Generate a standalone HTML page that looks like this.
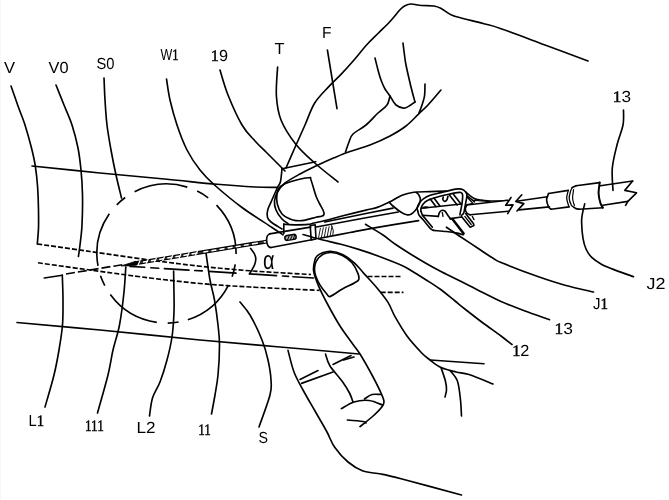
<!DOCTYPE html>
<html lang="en">
<head>
<meta charset="utf-8">
<title>Patent figure - catheter insertion</title>
<style>
html,body{margin:0;padding:0;background:#fff;}
body{width:669px;height:500px;overflow:hidden;position:relative;}
svg{display:block;position:absolute;left:0;top:0;will-change:transform;opacity:0.999;}
svg path, svg circle, svg line{fill:none;stroke:#000;stroke-width:1.65;stroke-linecap:round;stroke-linejoin:round;}
svg path.fill{fill:#000;}
svg path.w{fill:#fff;}
svg tspan.s{font-family:"Liberation Serif",serif;stroke:#000;stroke-width:0.45;}
svg text{font-family:"Liberation Sans",sans-serif;fill:#000;stroke:none;text-rendering:geometricPrecision;}
</style>
</head>
<body>
<svg width="669" height="500" viewBox="0 0 669 500">
<line x1="0.5" y1="0" x2="0.5" y2="500" stroke="#f3f3f3" stroke-width="1" stroke-dasharray="1 2" style="stroke:#f3f3f3;stroke-width:1"/>
<text x="4" y="73" font-size="16" textLength="11" lengthAdjust="spacingAndGlyphs">V</text>
<text x="48.5" y="72.5" font-size="16" textLength="20" lengthAdjust="spacingAndGlyphs">V0</text>
<text x="96.5" y="68.7" font-size="16" textLength="18" lengthAdjust="spacingAndGlyphs">S0</text>
<text x="160.5" y="60" font-size="16" textLength="18" lengthAdjust="spacingAndGlyphs">W<tspan class="s">1</tspan></text>
<text x="210.8" y="61" font-size="16" textLength="17.2" lengthAdjust="spacingAndGlyphs"><tspan class="s">1</tspan>9</text>
<text x="274.5" y="54" font-size="16" textLength="10" lengthAdjust="spacingAndGlyphs">T</text>
<text x="322" y="37.5" font-size="16" textLength="9.5" lengthAdjust="spacingAndGlyphs">F</text>
<text x="612.8" y="102" font-size="16" textLength="18.2" lengthAdjust="spacingAndGlyphs"><tspan class="s">1</tspan>3</text>
<text x="646.5" y="289" font-size="16" textLength="19" lengthAdjust="spacingAndGlyphs">J2</text>
<text x="593" y="309" font-size="16" textLength="15" lengthAdjust="spacingAndGlyphs">J<tspan class="s">1</tspan></text>
<text x="554.6" y="334" font-size="16" textLength="18.4" lengthAdjust="spacingAndGlyphs"><tspan class="s">1</tspan>3</text>
<text x="512.2" y="355.5" font-size="16" textLength="17.2" lengthAdjust="spacingAndGlyphs"><tspan class="s">1</tspan>2</text>
<text x="28.5" y="426" font-size="16" textLength="15.5" lengthAdjust="spacingAndGlyphs">L<tspan class="s">1</tspan></text>
<text x="85" y="430.5" font-size="16" textLength="18.8" lengthAdjust="spacingAndGlyphs"><tspan class="s">111</tspan></text>
<text x="136.5" y="433" font-size="16" textLength="19" lengthAdjust="spacingAndGlyphs">L2</text>
<text x="198.3" y="434.5" font-size="16" textLength="12.6" lengthAdjust="spacingAndGlyphs"><tspan class="s">11</tspan></text>
<text x="258.5" y="443" font-size="16" textLength="9.5" lengthAdjust="spacingAndGlyphs">S</text>
<text x="263" y="268.6" font-size="26" textLength="11.5" lengthAdjust="spacingAndGlyphs">α</text>
<path d="M11,86C12.2,89.3 15.7,99.5 18,106C20.3,112.5 22.8,118 25,125C27.2,132 29.8,141.2 31.5,148C33.2,154.8 34.3,159.5 35.3,166C36.3,172.5 37.1,179.7 37.6,187C38.1,194.3 38.4,203.2 38.5,210C38.6,216.8 38.7,222.3 38.5,228C38.3,233.7 37.5,241.3 37.3,244"/>
<path d="M32,166C43.3,167.2 77.5,170.8 100,173C122.5,175.2 147.5,177.4 167,179.3C186.5,181.2 202.3,183 217,184.3C231.7,185.6 245,186.5 255,187C265,187.5 273.3,187.3 277,187.4"/>
<path d="M17,322.5C30.8,323.8 69.5,327.1 100,330C130.5,332.9 170,337.2 200,340C230,342.8 253.5,344.7 280,347C306.5,349.3 345.8,352.8 359,354"/>
<path d="M56,85C57.3,88.3 61.3,98.3 64,105C66.7,111.7 69.7,117.8 72,125C74.3,132.2 76.5,140.5 78,148C79.5,155.5 80.2,162.2 81,170C81.8,177.8 82.3,185.8 82.5,195C82.7,204.2 82.4,216.7 82,225C81.6,233.3 80.6,239.8 80,245C79.4,250.2 78.7,254.6 78.4,256.5"/>
<path d="M104,78C104.2,81.7 104.5,92.2 105,100C105.5,107.8 106,116.7 107,125C108,133.3 109.5,141.7 111,150C112.5,158.3 114.2,167 116,175C117.8,183 120.6,194.2 121.5,198"/>
<path d="M228.5,285.1A69.6,69.6 0 0 1 187.8,319.8" style="stroke-linecap:butt"/>
<path d="M156.8,322.4A69.6,69.6 0 0 1 110.3,294.6" style="stroke-linecap:butt"/>
<path d="M98,265.9A69.6,69.6 0 0 1 109.3,213.8" style="stroke-linecap:butt"/>
<path d="M134.6,191.7A69.6,69.6 0 0 1 187.3,187.1" style="stroke-linecap:butt"/>
<path d="M216.5,205.1A69.6,69.6 0 0 1 236.1,254" style="stroke-linecap:butt"/>
<path d="M178.6,322A69.6,69.6 0 0 1 167.7,323.1" style="stroke-linecap:butt"/>
<path d="M104.8,285.6A69.6,69.6 0 0 1 100.5,275.7" style="stroke-linecap:butt"/>
<path d="M116.8,204.8A69.6,69.6 0 0 1 125.2,197.5" style="stroke-linecap:butt"/>
<path d="M197.2,191.1A69.6,69.6 0 0 1 208.2,197.8" style="stroke-linecap:butt"/>
<path d="M235.2,264.4A69.6,69.6 0 0 1 232.1,276.8" style="stroke-linecap:butt"/>
<path d="M166.5,79C167.1,82.5 168.2,92.3 170,100C171.8,107.7 174.2,116.7 177,125C179.8,133.3 183.2,142.5 187,150C190.8,157.5 195.4,164.2 200,170C204.6,175.8 207.5,178.8 214.5,185C221.5,191.2 232.4,200.4 242,207.5C251.6,214.6 265.2,222.9 272,227.5C278.8,232.1 281.2,233.6 283,234.8"/>
<path d="M220,70C221.3,74.2 224.3,85.8 228,95C231.7,104.2 237.5,117.3 242,125C246.5,132.7 250.8,136.3 255,141C259.2,145.7 262,148 267,153C272,158 282,168 285,171"/>
<path d="M277.6,67C277.4,71.8 275.8,87.2 276.4,96C277,104.8 277.8,112 281,120C284.2,128 290,136.8 295.6,144C301.2,151.2 307.6,156.7 314.7,163C321.8,169.3 334.1,178.8 338,182"/>
<path d="M327.4,50L337,108.7"/>
<path d="M623.5,110C623.4,112.5 624.1,119.2 623,125C621.9,130.8 618.8,137.8 617,145C615.2,152.2 613,160.4 612.3,168C611.6,175.6 612.9,186.7 613,190.4"/>
<path d="M584.7,203.8C584.2,206.8 581.4,214.5 581.6,222C581.8,229.5 582.8,242 586,249C589.2,256 593.1,259.4 601,264C608.9,268.6 628.1,274.6 633.5,276.7"/>
<path d="M459.4,236C462.7,238.2 473.3,245.2 479,249C484.7,252.8 489.5,256.1 493.5,258.5C497.5,260.9 495.5,260.2 503,263.3C510.5,266.4 528.2,273.2 538.5,276.8C548.8,280.4 555.8,282.7 565,285.2C574.2,287.7 588.8,290.9 593.5,292"/>
<path d="M365.5,224.3C368.4,226.1 378.1,231.7 383,235C387.9,238.3 390.5,240.9 395,244C399.5,247.1 405,250.6 410,253.7C415,256.8 420,259.8 425,262.7C430,265.6 435,268.4 440,271C445,273.6 450,276 455,278.5C460,281 465.8,283.9 470,286C474.2,288.1 474.8,288.6 480,291.2C485.2,293.8 493.5,298.2 501,301.5C508.5,304.8 516.9,308 525,311C533.1,314 545.4,318.2 549.5,319.7"/>
<path d="M303,234.5C305.8,235.3 313.8,237.7 320,239.3C326.2,240.9 333.4,242.3 340,244C346.6,245.7 352.7,247.5 359.4,249.6C366.1,251.7 372.8,254 380,256.7C387.2,259.4 397,263.2 402.5,265.7C408,268.2 409.2,269.4 413,271.7C416.8,273.9 420.5,276.3 425,279.2C429.5,282.1 435,285.4 440,289C445,292.6 450.8,297.6 455,301C459.2,304.4 460.8,305.8 465.5,309.5C470.2,313.2 477.1,318.6 483,323C488.9,327.4 496.2,332.4 501,336C505.8,339.6 510.2,343.1 512,344.5"/>
<path d="M44.3,278L62.3,275.2"/>
<path d="M62.3,275.2C62.4,279.3 63,291.7 63,300C63,308.3 63.2,316.7 62.5,325C61.8,333.3 60.4,341.7 59,350C57.6,358.3 56.3,365.5 54,375C51.7,384.5 46.5,401.7 45,407"/>
<path d="M125.8,267C125.5,271.2 125,282.3 124,292C123,301.7 121.3,315.3 119.5,325C117.7,334.7 114.9,341.7 113,350C111.1,358.3 110.6,364.5 108,375C105.4,385.5 99.2,406.7 97.5,413"/>
<path d="M173.6,271C173.7,275 173.9,288.2 174,295C174.1,301.8 174.3,305 174,312C173.7,319 173.2,329 172,337C170.8,345 169,352.5 167,360C165,367.5 162.4,375.7 160,382C157.6,388.3 154.2,392.3 152.5,398C150.8,403.7 150,413 149.5,416"/>
<path d="M206,253C206.7,257.5 208.6,272.2 210,280C211.4,287.8 213.2,292.5 214.5,300C215.8,307.5 217.2,317.5 218,325C218.8,332.5 219.5,336.7 219.5,345C219.5,353.3 218.8,366.7 218,375C217.2,383.3 216.1,388.5 215,395C213.9,401.5 212.1,410.8 211.5,414"/>
<path d="M240,302C241.7,304.2 246.3,308.7 250,315C253.7,321.3 259,332.5 262,340C265,347.5 266.5,353.3 268,360C269.5,366.7 270.7,374.2 271,380C271.3,385.8 272,387.2 270,395C268,402.8 260.8,421.7 259,427"/>
<path d="M37.3,244C46.1,245.2 71.2,248.8 90,251.5C108.8,254.2 131.7,257.6 150,260C168.3,262.4 183.3,264.4 200,266.2C216.7,268 231.5,269.4 250,270.8C268.5,272.2 300.8,273.9 311,274.5" stroke-dasharray="5 2" style="stroke-linecap:butt"/>
<path d="M38,262.8C46.7,264 71.3,267.5 90,270C108.7,272.5 131.7,275.8 150,278C168.3,280.2 183.3,282 200,283.5C216.7,285 230.1,285.9 250,287C269.9,288.1 308,289.8 319.6,290.4" stroke-dasharray="5 2" style="stroke-linecap:butt"/>
<path d="M367.5,276.5L402,276.5" stroke-dasharray="5 2" style="stroke-linecap:butt"/>
<path d="M380.7,292.3L403.5,292.3" stroke-dasharray="5 2" style="stroke-linecap:butt"/>
<path d="M66,274L123,264.6" stroke-dasharray="9 3" style="stroke-linecap:butt"/>
<path d="M130,266.4L144.7,267.3"/>
<path d="M151,267.7L158.7,268.2"/>
<path d="M164.4,268.6L189,270.1"/>
<path d="M194.8,270.5L202.2,270.9"/>
<path d="M208.8,271.4L236,273.1"/>
<path d="M249.5,273.9L276.5,275.6"/>
<path d="M282.5,276L288.5,276.4"/>
<path d="M293,276.7L313.5,278"/>
<path d="M250.7,248.5C251.3,249.4 253.7,252.2 254.5,254C255.3,255.8 255.8,257.2 255.8,259C255.8,260.8 255.2,263.1 254.5,265C253.8,266.9 252.3,269 251.5,270.5C250.7,272 249.8,273.3 249.5,273.9"/>
<path d="M134,263.5L266.6,241.6" style="stroke-width:3.9;stroke-linecap:butt"/>
<path d="M140,262.6L266,241.7" style="stroke:#3a3a3a;stroke-width:1.3;stroke-linecap:butt"/>
<path d="M143,262.1L266,241.7" style="stroke:#fff;stroke-width:1.5;stroke-linecap:butt" stroke-dasharray="5 3.2 5 3.2 5 3.2 5 3.2 5 3.2 5 3.2 6 6"/>
<path d="M140.1,260.4L137.9,265.2M148.3,259L146.1,263.8M156.5,257.7L154.3,262.5M164.7,256.3L162.5,261.1M172.9,255L170.7,259.8M181.1,253.6L178.9,258.4M189.3,252.2L187.1,257M197.5,250.9L195.3,255.7" style="stroke:#fff;stroke-width:1.2;stroke-linecap:butt"/>
<path d="M121.4,265.8L136,261.2L136.8,265.1L128,265.9Z" style="fill:#000;stroke-width:0.8"/>
<path d="M269.6,233.9C269.2,234.2 267.8,235 267.3,236C266.8,237 266.6,238.6 266.6,240C266.6,241.4 267,243.4 267.4,244.6C267.8,245.8 268.6,246.5 269.2,247C269.8,247.5 270.7,247.4 271,247.5"/>
<path d="M269.6,233.9L310.6,227.1"/>
<path d="M271,247.5L311.8,239.7"/>
<rect x="284.8" y="234.9" width="11.4" height="5" rx="2.5" transform="rotate(-9 290.5 237.4)" style="fill:#aaa;stroke:#000;stroke-width:1.5"/>
<path d="M287.5,239.8L289.5,235.2" style="stroke-width:1.0"/>
<path d="M290.5,239.5L292.5,234.8" style="stroke-width:1.0"/>
<path d="M293.3,239L295,234.6" style="stroke-width:1.0"/>
<path d="M310.2,225.6L315.2,224.8L316,239L311.2,239.9Z"/>
<path d="M318.4,238.5L320.4,228.2" style="stroke-width:0.9"/>
<path d="M321.3,238L323.3,227.7" style="stroke-width:0.9"/>
<path d="M324.2,237.5L326.2,227.2" style="stroke-width:0.9"/>
<path d="M327.1,237L329.1,226.7" style="stroke-width:0.9"/>
<path d="M330,236.5L332,226.2" style="stroke-width:0.9"/>
<path d="M331.5,225.6C331.8,226.4 333,228.8 333.2,230.5C333.4,232.2 332.7,234.8 332.6,235.6" style="stroke-width:1.0"/>
<path d="M283.8,224.2C285.8,224.3 292,224.8 296,224.8C300,224.8 305,224.7 308,224.4C311,224.1 311,223.7 314,223C317,222.3 321,221.6 326,220.3C331,219.1 337.3,217.2 344,215.5C350.7,213.8 360.3,211.5 366,210.1C371.7,208.7 374,208.5 378,207.1C382,205.7 386,203.7 390,201.7C394,199.7 398,196.8 402,195.2C406,193.6 409.1,192.8 413.8,192.2C418.5,191.6 424.6,191.8 430,191.6C435.4,191.4 443.3,191.1 446,191"/>
<path d="M324.7,222L366,213.5L393,208.1"/>
<path d="M316.3,227L366,217.7L398.3,212"/>
<path d="M320,238.3C325,237.3 340.7,234.3 350,232.5C359.3,230.7 364.6,229.6 376,227.6C387.4,225.6 411.5,221.8 418.6,220.6"/>
<path d="M389.3,202.3C390,203 391.6,204.9 393.5,206.5C395.4,208.1 398.5,210.6 400.7,212C402.9,213.4 405,214.3 406.7,214.7C408.4,215.1 409.5,215 410.9,214.3C412.3,213.6 413.7,212.2 415,210.7C416.3,209.2 417.7,207.2 418.6,205.3C419.5,203.4 420.4,201.2 420.4,199.4C420.4,197.6 419.3,195.8 418.6,194.6C417.9,193.4 416.6,192.8 416.2,192.4"/>
<path d="M417.8,211C417.7,210.5 416.9,209.2 417.2,207.8C417.5,206.5 418.3,204.4 419.4,202.9C420.5,201.4 421.9,199.9 423.7,198.6C425.5,197.3 427.3,196.3 430.2,195.3C433.1,194.3 437.4,193.5 441,192.6C444.6,191.7 448.9,190.5 451.8,189.9C454.7,189.3 456.5,189 458.3,188.9C460.1,188.8 461.4,188.9 462.6,189.4C463.9,189.9 465.1,191 465.8,192.1C466.5,193.2 467.1,193.3 466.9,195.9C466.7,198.5 465.3,204.9 464.8,207.8C464.3,210.7 464.2,211.9 463.7,213.2C463.1,214.4 461.9,215 461.5,215.3"/>
<path d="M421,211.5C421,211 420.6,209.6 421,208.3C421.4,207.1 422.2,205.3 423.2,204C424.2,202.7 424.9,201.8 427,200.7C429.1,199.6 432.4,198.5 435.6,197.5C438.8,196.5 442.8,195.6 446.4,194.8C450,194 454.8,193 457.2,192.6C459.6,192.2 460.1,192.2 461,192.6C461.9,193 462.4,193 462.6,194.8C462.8,196.6 462.4,200.5 462,203.4C461.6,206.3 460.8,210.2 460.4,212.1C460,214 460,214.4 459.9,214.8"/>
<path d="M417.8,211C418,211.6 418.2,213.5 418.9,214.8C419.6,216.1 421.1,217.4 422.1,218.6C423.1,219.8 423.5,220.2 424.8,221.8C426.1,223.4 428.8,226.9 430.2,228.3C431.6,229.7 432.9,230.1 433.4,230.4"/>
<path d="M421,211.5C421.3,212.1 422,214.2 422.6,215.3C423.2,216.4 423.2,216 424.8,218C426.4,220 431.1,225.7 432.4,227.2"/>
<path d="M421.6,208.3L461.5,204"/>
<ellipse cx="425.4" cy="207.3" rx="3.2" ry="1.1" transform="rotate(-6 425.4 207.3)" style="fill:#000;stroke:none"/>
<path d="M422.6,215.3L438.3,216.4"/>
<path d="M438.3,216.4C438.5,215.8 438.9,213.6 439.4,212.6C439.9,211.6 440.6,210.8 441.5,210.5C442.4,210.2 443.8,210.3 444.8,211C445.8,211.7 446.6,213.5 447.5,214.8C448.4,216.1 449.8,218 450.2,218.6"/>
<path d="M442.3,212.3L443,216.4" style="stroke-width:1.3"/>
<path d="M450.2,218.6L461.5,217"/>
<path d="M430.2,199.1L436.1,206.7"/>
<path d="M434,198L439.9,206.1"/>
<path d="M449.6,195.3L457.2,205"/>
<path d="M453.4,194.3L461,204"/>
<path d="M443.2,197C443.1,197.4 442.6,199 442.9,199.7C443.2,200.4 444.1,201.3 444.8,201.3C445.5,201.3 446.4,200.5 446.9,199.7C447.4,198.9 447.8,196.9 448,196.4"/>
<path d="M433.4,230.4C435.6,230.6 442.4,231.1 446.4,231.5C450.4,231.9 454.4,232.5 457.2,233.1C460,233.7 462.1,234.5 463.1,234.8"/>
<path d="M452.6,219.2L463.6,233.6" style="stroke-width:2.5"/>
<path d="M450.2,218.6L452.6,219.2"/>
<path d="M446.4,227.2L459.4,236"/>
<path d="M461.5,216.4L470.2,227.2L473.9,225.6L473.4,223.4L465.8,213.7"/>
<path d="M464.8,216.4L471.2,224.5" style="stroke-width:1.3"/>
<path d="M472.3,216.4L474,219.6" style="stroke-width:1.3"/>
<path d="M465.8,192.1C466.5,192.7 468.6,194.7 470.2,195.9C471.8,197.1 473.6,198.4 475.6,199.1C477.6,199.8 480.9,200 482,200.2"/>
<path d="M466.9,195.9L471.2,199.1L474.5,201.8"/>
<path d="M467.5,197.5L472.9,203.4L466.9,204.6" style="stroke-width:1.3"/>
<path d="M466.9,205C466.6,205.6 465.3,207.4 465.3,208.8C465.3,210.2 466.1,212.2 466.9,213.2C467.7,214.2 469.6,214.5 470.2,214.8"/>
<path d="M466.9,205L507.7,200.3"/>
<path d="M470.2,214.8L508.4,211.2"/>
<path d="M482,200.2C484,200.3 490.1,200.9 494.2,200.9C498.2,200.9 504.3,200.5 506.3,200.4" style="stroke-width:1.2"/>
<path d="M472.7,200.2L490.2,201.6" style="stroke-width:1.1"/>
<path d="M511,197.5L505.7,205.3L513,204.9L507.7,213.6"/>
<path d="M521.8,194.8L515.8,201.5L523.8,203.6L517,211"/>
<path d="M516.4,201.3L547.4,196.8"/>
<path d="M519,209.9L549.4,206.9"/>
<path d="M548.6,193.5C548.3,194.6 546.6,197.6 546.6,199.8C546.6,202 547.9,205.3 548.6,206.9C549.3,208.5 550.6,208.8 551,209.2"/>
<path d="M548.6,193.5L568.3,190.4"/>
<path d="M551,209.2L569,206.9"/>
<path d="M568.3,190.4C568,191.7 566.6,195.6 566.7,198.3C566.8,201.1 568.6,205.5 569,206.9" style="stroke-width:1.3"/>
<path d="M572.2,187.6C571.9,188.2 571.1,189.4 570.6,191.2C570.1,193 569.1,196 569.2,198.3C569.3,200.7 570.6,203.8 571.4,205.3C572.2,206.8 573.4,206.9 573.8,207.2" style="stroke-width:1.3"/>
<path d="M573.6,189.6C573.4,191.1 572.5,195.6 572.6,198.3C572.7,201 574.1,204.4 574.4,205.6" style="stroke-width:1.2"/>
<path d="M572.2,187.6 L576.1,185.7"/>
<path d="M576.1,185.7L599.7,182.6"/>
<path d="M573.8,207.2C574.2,207.4 575.1,208.3 576,208.6C576.9,208.9 578.7,209.1 579.2,209.2"/>
<path d="M579.2,209.2L602.8,207.7"/>
<path d="M599.7,182.6C599.5,184.4 598.5,190.1 598.6,193.5C598.7,196.9 599.7,200.6 600.4,203C601.1,205.4 602.4,206.9 602.8,207.7" style="stroke-width:2.0"/>
<path d="M600.4,185.7L632.6,181"/>
<path d="M602.8,205.3L627.9,201.4"/>
<path d="M632.6,181L624.8,190.4L636.5,192.8L627.9,201.4L625.6,205.3"/>
<path d="M286,168C287.6,164.3 292.4,153.2 295.6,146C298.8,138.8 301.8,132.2 305,125C308.2,117.8 310.7,109.4 314.7,103C318.7,96.6 324.6,91.2 329,86.4C333.4,81.6 336.8,78.8 341,74.4C345.2,70 349.7,65 354,60C358.3,55 362.9,49 367,44.5C371.1,40 374.7,36.8 378.5,33C382.3,29.2 386.5,25.3 390,21.5C393.5,17.7 397.1,12.9 399.5,10.3C401.9,7.7 402.6,7 404.5,6C406.4,5 408.2,4.1 411,4C413.8,3.9 417.7,5.2 421.5,5.5C425.3,5.8 430.7,5.5 434,6C437.3,6.5 438.6,7.2 441.5,8.7C444.4,10.2 447.8,13.3 451.5,15C455.2,16.7 458.6,17.2 464,18.7C469.4,20.1 477.8,22 484,23.7C490.2,25.4 490.8,25.1 501,28.7C511.2,32.2 530.5,39.6 545,45C559.5,50.4 580.8,58.3 588,61"/>
<path d="M375,58C375.5,60 377,66.3 378,70C379,73.7 379.8,76.8 381,80C382.2,83.2 383.5,86.3 385,89C386.5,91.7 388.2,93.3 390,96C391.8,98.7 393.5,103 396,105C398.5,107 401.8,108.5 405,108C408.2,107.5 413.3,103 415,102"/>
<path d="M403,43C403.2,45 404,51.3 404.5,55C405,58.7 404.9,59.7 406,65C407.1,70.3 409.5,80.8 411,87C412.5,93.2 414.3,99.5 415,102"/>
<path d="M390,96C389.5,97.5 389,102.2 387,105C385,107.8 381.5,109.7 378,113C374.5,116.3 370.2,121.5 366,125C361.8,128.5 355.8,131.2 353,134C350.2,136.8 350.2,139 349,142C347.8,145 346.1,150.3 345.5,152"/>
<path d="M425,84C424.9,86 425,92.5 424.5,96C424,99.5 422.9,102.2 422,105C421.1,107.8 419.5,111.7 419,113"/>
<path d="M441,90C438.8,92.5 431.7,101.1 428,105C424.3,108.9 422.7,110.1 419,113.6C415.3,117.1 410.8,122.3 406,126C401.2,129.7 396,132.8 390,136C384,139.2 376.7,142.4 370,145C363.3,147.6 356,149.4 350,151.5C344,153.6 339.3,155.6 334,157.8C328.7,160.1 323.7,162.3 318,165C312.3,167.7 305.5,171 300,174C294.5,177 288.8,180 285,183C281.2,186 279.2,189 277.5,192C275.8,195 274.8,198 274.5,201C274.2,204 274.8,207 276,210C277.2,213 280,216.8 282,219C284,221.2 287,222.8 288,223.5"/>
<path d="M282,168.7L315.7,161.7"/>
<path d="M282,168.7C281.8,170.8 281.2,178.4 280.5,181.5C279.8,184.6 279,184.2 277.5,187.5C276,190.8 273.1,197.2 271.5,201C269.9,204.8 268.4,207.2 267.7,210C267,212.8 266.9,215.5 267.5,217.5C268.1,219.5 268.6,220.1 271,222C273.4,223.9 280.2,227.8 282,229"/>
<path d="M280.5,186.5C283.2,184.3 288.2,182.4 293,181C297.8,179.6 306,178 309,177.8C312,177.6 309.8,177 311,180C312.2,183 314.6,192.1 316,196C317.4,199.9 318.3,201.2 319.5,203.5C320.7,205.8 322.2,208.2 323,210C323.8,211.8 324.2,213.4 324,214.5C323.8,215.6 322.8,215.9 321.5,216.3C320.2,216.8 318.9,216.5 316,217.2C313.1,217.9 307.3,219.8 304,220.4C300.7,221 298.3,220.8 296,220.6C293.7,220.4 292.3,220.1 290,219C287.7,217.9 284.1,216.5 282,214C279.9,211.5 278.1,207.3 277.3,204C276.5,200.7 276.5,196.9 277,194C277.5,191.1 277.8,188.7 280.5,186.5Z"/>
<path d="M283.8,224L283.8,233.5"/>
<path d="M360,426.6C362,425 368.5,420.1 372,417C375.5,413.9 379,410.5 381,408C383,405.5 384,404.5 384,402C384,399.5 383,397.5 381,393C379,388.5 375.5,381.5 372,375C368.5,368.5 363.3,359.3 360,354C356.7,348.7 355.3,347.7 352,343C348.7,338.3 344,332.3 340,326C336,319.7 331.6,311.7 328,305C324.4,298.3 320.8,291.3 318.4,285.6C316,279.9 314.2,275.2 313.6,271C313,266.8 314.2,262.9 314.8,260.4C315.4,257.9 315.8,257.2 317,256C318.2,254.8 319.8,253.8 322,253C324.2,252.2 327,251.1 330.4,251.3C333.8,251.5 338.4,252.5 342.4,254.4C346.4,256.3 350.7,259.6 354.3,262.8C357.9,266 360.4,269.6 364,273.6C367.6,277.6 372,282 376,286.8C380,291.6 384.8,297.4 388,302.4C391.2,307.4 391.8,311.1 395,316.7C398.2,322.3 402.6,330 407,336C411.4,342 417.7,348.7 421.5,352.7C425.3,356.7 426.8,357.5 430,360C433.2,362.5 436.7,365.5 441,367.5C445.3,369.5 451.3,370.8 456,372C460.7,373.2 462.8,372.5 469,374.5C475.2,376.5 489,382.4 493,384"/>
<path d="M314.8,272.4C314.2,268.6 314.6,264.6 316,261.6C317.4,258.6 320.4,255.9 323,254.4C325.6,252.9 328.4,252.3 331.6,252.5C334.8,252.7 339,253.9 342.4,255.6C345.8,257.3 349.4,259.8 352,262.8C354.6,265.8 356.9,270.8 358,273.6C359.1,276.4 359.3,278 358.7,279.6C358.1,281.2 357,281.4 354.3,283C351.6,284.6 346.4,286.8 342.4,289C338.4,291.2 333,295.6 330.4,296.4C327.8,297.2 328.6,296 326.8,294C325,292 321.6,288 319.6,284.4C317.6,280.8 315.4,276.2 314.8,272.4Z"/>
<path d="M430.4,360L484,363.7"/>
<path d="M441,367.5C441.7,369.8 444.5,377.2 445.4,381C446.3,384.8 446.6,387.3 446.5,390C446.4,392.7 445.2,395.8 445,397"/>
<path d="M450,370.5C451.2,372.2 455.7,376.2 457.4,381C459.1,385.8 459.7,393.2 460.4,399C461.1,404.8 461.3,413.2 461.5,416"/>
<path d="M288,350.4C289,354 291.5,365.4 294,372C296.5,378.6 299.5,383.5 303,390C306.5,396.5 311,404 315,411C319,418 323.8,426 327,432C330.2,438 331,442 334.5,447C338,452 343.2,458 348,462C352.8,466 357.5,469 363,471C368.5,473 374.5,472.7 381,474C387.5,475.3 388.6,475.5 402,479C415.4,482.5 451.6,492.3 461.5,495"/>
<path d="M325.5,354C326.2,356 327.2,361.5 330,366C332.8,370.5 338.8,376.5 342,381C345.2,385.5 347.7,389.5 349.5,393C351.3,396.5 352.4,400.5 353,402"/>
<path d="M300,379.5L318,370.5"/>
<path d="M301.5,383.4L333,372"/>
<path d="M333,364.5L351,355.5"/>
<path d="M343.5,360L354,357"/>
<path d="M341.4,408.6C343.5,407.5 349.4,403.4 354,402C358.6,400.6 364.3,400 369,400.5C373.7,401 380.2,404.2 382.4,405"/>
<path d="M364.5,399C365.8,398.2 369.2,395.2 372,394.5C374.8,393.8 379.5,394.5 381,394.5"/>
<path d="M347.4,420C350,420.2 359.9,421 363,421.5C366.1,422 365.5,422.8 366,423"/>
</svg>
</body>
</html>
